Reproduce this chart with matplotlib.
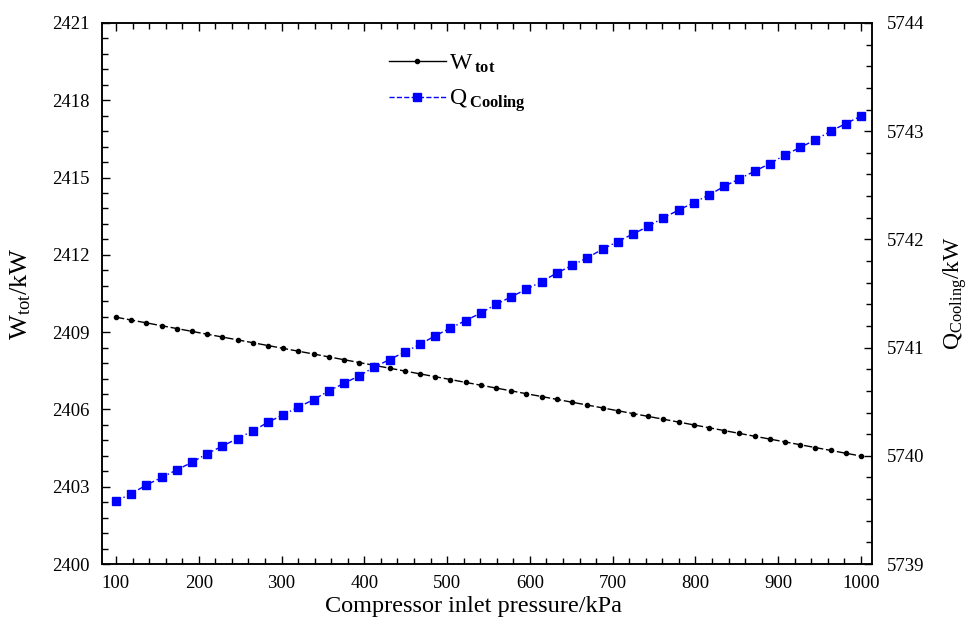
import matplotlib
matplotlib.use("Agg")
import matplotlib.pyplot as plt
from matplotlib.ticker import MultipleLocator
from matplotlib.lines import Line2D

plt.rcParams['font.family'] = ['Liberation Serif', 'DejaVu Serif']
plt.rcParams['mathtext.fontset'] = 'custom'
plt.rcParams['mathtext.rm'] = 'Liberation Serif'
plt.rcParams['mathtext.it'] = 'Liberation Serif:italic'
plt.rcParams['mathtext.bf'] = 'Liberation Serif:bold'

# compressor inlet pressure (kPa)
pressure = [100.0, 118.4, 136.7, 155.1, 173.5, 191.8, 210.2, 228.6, 246.9, 265.3,
            283.7, 302.0, 320.4, 338.8, 357.1, 375.5, 393.9, 412.2, 430.6, 449.0,
            467.3, 485.7, 504.1, 522.4, 540.8, 559.2, 577.6, 595.9, 614.3, 632.7,
            651.0, 669.4, 687.8, 706.1, 724.5, 742.9, 761.2, 779.6, 798.0, 816.3,
            834.7, 853.1, 871.4, 889.8, 908.2, 926.5, 944.9, 963.3, 981.6, 1000.0]

# total work (kW)
w_tot = [2409.58, 2409.47, 2409.36, 2409.25, 2409.14, 2409.03, 2408.92, 2408.81, 2408.70, 2408.59,
         2408.48, 2408.37, 2408.26, 2408.15, 2408.04, 2407.93, 2407.82, 2407.71, 2407.60, 2407.49,
         2407.38, 2407.27, 2407.16, 2407.05, 2406.94, 2406.83, 2406.72, 2406.61, 2406.50, 2406.39,
         2406.28, 2406.17, 2406.06, 2405.95, 2405.84, 2405.73, 2405.62, 2405.51, 2405.40, 2405.29,
         2405.18, 2405.07, 2404.96, 2404.85, 2404.74, 2404.63, 2404.52, 2404.41, 2404.30, 2404.19]

# cooling load (kW)
q_cooling = [5739.58, 5739.65, 5739.73, 5739.80, 5739.87, 5739.94, 5740.02, 5740.09, 5740.16, 5740.23,
             5740.31, 5740.38, 5740.45, 5740.52, 5740.60, 5740.67, 5740.74, 5740.82, 5740.89, 5740.96,
             5741.03, 5741.11, 5741.18, 5741.25, 5741.32, 5741.40, 5741.47, 5741.54, 5741.61, 5741.69,
             5741.76, 5741.83, 5741.91, 5741.98, 5742.05, 5742.12, 5742.20, 5742.27, 5742.34, 5742.41,
             5742.49, 5742.56, 5742.63, 5742.70, 5742.78, 5742.85, 5742.92, 5743.00, 5743.07, 5743.14]

fig = plt.figure(figsize=(9.74, 6.26), dpi=100)
ax = fig.add_axes([0.1047, 0.099, 0.7906, 0.8643])
ax2 = ax.twinx()

ax.plot(pressure, w_tot, color='black', lw=1.0, linestyle=(0, (6, 2)),
        marker='o', markersize=3)
ax2.plot(pressure, q_cooling, color='#0000ff', lw=1.0, linestyle=(0, (4, 2, 1, 2)),
         marker='s', markersize=5.5)

ax.set_xlim(83.1, 1013.3)
ax.set_ylim(2400, 2421)
ax2.set_ylim(5739, 5744)

ax.xaxis.set_major_locator(MultipleLocator(100))
ax.xaxis.set_minor_locator(MultipleLocator(20))
ax.yaxis.set_major_locator(MultipleLocator(3))
ax.yaxis.set_minor_locator(MultipleLocator(0.6))
ax2.yaxis.set_major_locator(MultipleLocator(1))
ax2.yaxis.set_minor_locator(MultipleLocator(0.2))

for a in (ax, ax2):
    for s in a.spines.values():
        s.set_linewidth(1.1)

ax.tick_params(axis='x', which='both', direction='in', top=True, labelsize=13.5, pad=8)
ax.tick_params(axis='y', which='both', direction='in', labelsize=13.5, pad=9)
ax2.tick_params(axis='y', which='both', direction='in', labelsize=13.5, pad=11)
ax.tick_params(which='major', length=6, width=1)
ax.tick_params(which='minor', length=4, width=1)
ax2.tick_params(which='major', length=6, width=1)
ax2.tick_params(which='minor', length=4, width=1)

ax.set_xlabel('Compressor inlet pressure/kPa', fontsize=17.5)
ax.xaxis.set_label_coords(0.483, -0.06)
ax.set_ylabel(r'W$_{\mathrm{tot}}$/kW', fontsize=19, labelpad=14)
ax2.set_ylabel(r'Q$_{\mathrm{Cooling}}$/kW', fontsize=17, labelpad=12)

handles = [Line2D([], [], color='black', lw=1.0, marker='o', markersize=3),
           Line2D([], [], color='#0000ff', lw=1.0, linestyle='--', marker='s', markersize=5.5)]
labels = [r'W$\,_{\mathbf{tot}}$', r'Q$\,_{\mathbf{Cooling}}$']
ax.legend(handles, labels, loc='upper left', bbox_to_anchor=(0.345, 0.985),
          frameon=False, fontsize=17, handlelength=2.4, handletextpad=0.15, labelspacing=0.55)

fig.savefig('out.png', dpi=100)
